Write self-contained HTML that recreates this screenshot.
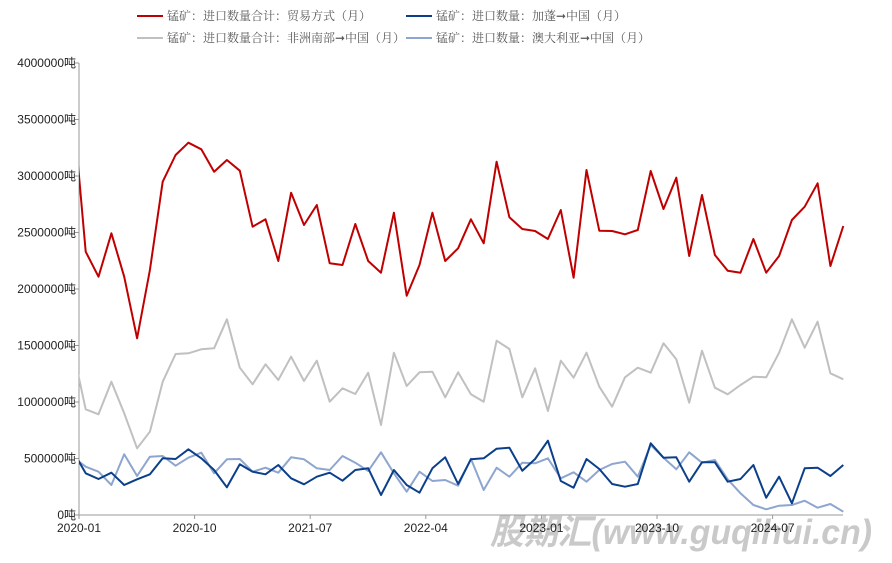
<!DOCTYPE html>
<html><head><meta charset="utf-8"><style>
body{margin:0;background:#fff;}
svg text{font-family:"Liberation Sans","Noto Sans CJK SC",sans-serif;}
</style></head><body>
<svg id="s" width="892" height="558" xmlns="http://www.w3.org/2000/svg">
<defs><clipPath id="c"><rect x="79" y="40" width="800" height="480"/></clipPath></defs>
<text x="490" y="544" font-size="35" font-weight="bold" font-style="italic" fill="#c9c9c9" textLength="382" lengthAdjust="spacingAndGlyphs">股期汇(www.guqihui.cn)</text>
<g font-size="12" fill="#222" text-anchor="end" id="yl"></g>
<line x1="79" y1="63" x2="79" y2="515" stroke="#999" stroke-width="1"/>
<line x1="79" y1="515" x2="843" y2="515" stroke="#999" stroke-width="1"/>
<g id="xt" font-size="12" fill="#222" text-anchor="middle"></g>
<g id="lines" clip-path="url(#c)" fill="none" stroke-width="2" stroke-linejoin="round"></g>
<g font-size="12" fill="#595959" style="font-family:'Liberation Serif','Noto Serif CJK SC',serif">
<line x1="137" y1="16" x2="163" y2="16" stroke="#c00000" stroke-width="2"/>
<text x="167" y="20" style="font-family:'Liberation Serif','Noto Serif CJK SC',serif">锰矿：进口数量合计：贸易方式（月）</text>
<line x1="406" y1="16" x2="432" y2="16" stroke="#0b3f8a" stroke-width="2"/>
<text x="436" y="20" style="font-family:'Liberation Serif','Noto Serif CJK SC',serif">锰矿：进口数量：加蓬➞中国（月）</text>
<line x1="137" y1="38" x2="163" y2="38" stroke="#c0c0c0" stroke-width="2"/>
<text x="167" y="42" style="font-family:'Liberation Serif','Noto Serif CJK SC',serif">锰矿：进口数量合计：非洲南部➞中国（月）</text>
<line x1="406" y1="38" x2="432" y2="38" stroke="#8ea6cf" stroke-width="2"/>
<text x="436" y="42" style="font-family:'Liberation Serif','Noto Serif CJK SC',serif">锰矿：进口数量：澳大利亚➞中国（月）</text>
</g>
</svg>
<script>
var NS="http://www.w3.org/2000/svg";
function el(t,a,txt){var e=document.createElementNS(NS,t);for(var k in a)e.setAttribute(k,a[k]);if(txt)e.textContent=txt;return e;}
var yl=document.getElementById('yl');
for(var i=0;i<=8;i++){var y=515-i*56.5;yl.appendChild(el('text',{x:76,y:y+4},(i*500000)+'吨'));yl.appendChild(el('line',{x1:75,y1:y,x2:79,y2:y,stroke:'#999'}));}
var xt=document.getElementById('xt');
var labs=['2020-01','2020-10','2021-07','2022-04','2023-01','2023-10','2024-07'];
labs.forEach(function(l,i){var x=79+i*115.6;xt.appendChild(el('text',{x:x,y:532},l));xt.appendChild(el('line',{x1:x,y1:515,x2:x,y2:519,stroke:'#999'}));});
function X(k){return 85.7+(k-1)*12.84;}
var red=[107,365,440,310,440,625,420,155,75,38,58,125,90,122,290,268,393,188,285,225,400,405,282,393,428,248,497,405,248,393,355,268,340,95,262,297,303,327,240,443,120,302,303,313,300,123,237,143,378,195,375,422,428,327,428,378,270,230,160,408,288];
var gray=[350,838,853,755,850,955,905,755,672,670,658,655,568,713,763,703,750,680,753,692,815,775,792,728,885,668,768,727,725,802,727,793,815,632,657,802,715,843,692,743,668,770,830,742,713,728,640,688,818,662,773,793,765,740,742,668,568,653,575,730,748];
var db=[451,1030,1047,1028,1065,1048,1033,985,987,958,985,1020,1072,1003,1025,1033,1005,1045,1063,1040,1028,1052,1020,1015,1095,1020,1065,1088,1015,982,1062,988,985,956,953,1022,987,932,1053,1073,987,1017,1062,1070,1062,940,983,982,1055,997,997,1055,1047,1005,1103,1040,1120,1015,1013,1038,1005];
var lb=[457,1010,1025,1065,973,1038,980,978,1007,983,968,1030,988,987,1025,1013,1028,982,988,1015,1020,978,998,1023,967,1030,1085,1025,1053,1050,1067,986,1080,1013,1040,998,1000,985,1045,1027,1055,1020,1002,995,1040,945,983,1018,967,998,990,1048,1090,1125,1138,1127,1125,1112,1133,1122,1145];
var g=document.getElementById('lines');
function draw(arr,col){var p=arr.map(function(v,k){var y=k>0?130+v/3:v;return X(k).toFixed(1)+','+y.toFixed(1);}).join(' ');g.appendChild(el('polyline',{points:p,stroke:col}));}
draw(gray,'#c0c0c0');draw(lb,'#8ea6cf');draw(db,'#0b3f8a');draw(red,'#c00000');
</script>
</body></html>
